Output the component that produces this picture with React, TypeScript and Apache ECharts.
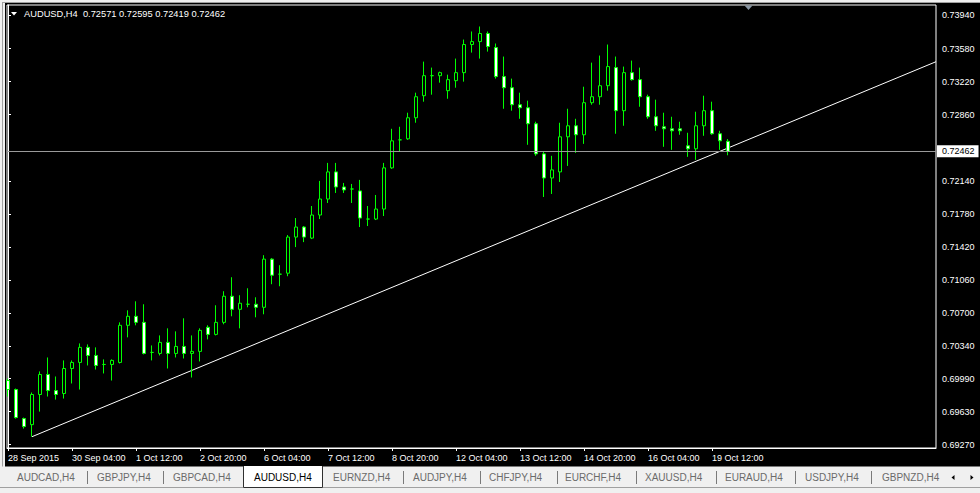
import React, { useEffect, useRef } from 'react';
import * as echarts from 'echarts';

// ---------- data ----------
const symbolTitle = 'AUDUSD,H4  0.72571 0.72595 0.72419 0.72462';

const timeLabels = [
  '28 Sep 2015', '30 Sep 04:00', '1 Oct 12:00', '2 Oct 20:00', '6 Oct 04:00', '7 Oct 12:00',
  '8 Oct 20:00', '12 Oct 04:00', '13 Oct 12:00', '14 Oct 20:00', '16 Oct 04:00', '19 Oct 12:00',
];
const timeLabelBars = [0, 8, 16, 24, 32, 40, 48, 56, 64, 72, 80, 88];

const priceTicks = [
  0.7394, 0.7358, 0.7322, 0.7286, 0.7214, 0.7178, 0.7142, 0.7106, 0.707, 0.7034, 0.6999, 0.6963, 0.6927,
];
const lastPrice = 0.72462;

const opens = [
  0.69968, 0.6987, 0.69554, 0.69488, 0.69816, 0.70034, 0.69859, 0.69827, 0.70099, 0.70165,
  0.70329, 0.70241, 0.70143, 0.70143, 0.70165, 0.70569, 0.70667, 0.70601, 0.70274, 0.70263,
  0.70383, 0.70263, 0.70339, 0.70263, 0.70285, 0.70547, 0.7047, 0.70601, 0.70885, 0.70743,
  0.70798, 0.70798, 0.70765, 0.71289, 0.71125, 0.71136, 0.71529, 0.71638, 0.71518, 0.71769,
  0.71943, 0.72238, 0.72074, 0.72052, 0.72031, 0.71725, 0.71725, 0.71834, 0.72282, 0.72587,
  0.72598, 0.72827, 0.73067, 0.73285, 0.73285, 0.73122, 0.73231, 0.73318, 0.73624, 0.73656,
  0.73744, 0.73591, 0.73275, 0.73154, 0.72969, 0.72936, 0.72762, 0.72434, 0.72172, 0.72238,
  0.7262, 0.7274, 0.72642, 0.72991, 0.73056, 0.73176, 0.73373, 0.72904, 0.73318, 0.73242,
  0.73056, 0.72838, 0.72729, 0.72707, 0.72707, 0.72522, 0.72489, 0.7274, 0.72904, 0.72653,
  0.72571,
];
const closes = [
  0.6987, 0.69565, 0.69467, 0.69816, 0.70034, 0.69859, 0.69816, 0.70099, 0.70165, 0.70329,
  0.70241, 0.70132, 0.70143, 0.70187, 0.70569, 0.70667, 0.70601, 0.70263, 0.70274, 0.70383,
  0.70263, 0.70339, 0.70263, 0.70285, 0.70514, 0.7047, 0.70601, 0.70885, 0.70743, 0.70809,
  0.70798, 0.70765, 0.71289, 0.71114, 0.71125, 0.71529, 0.71638, 0.71529, 0.71769, 0.71943,
  0.72238, 0.72074, 0.72042, 0.72052, 0.71736, 0.71725, 0.71834, 0.72282, 0.72576, 0.72587,
  0.72827, 0.73056, 0.73285, 0.73285, 0.73318, 0.73242, 0.73318, 0.73624, 0.73656, 0.73744,
  0.73602, 0.73275, 0.73154, 0.72969, 0.72936, 0.72762, 0.72434, 0.72172, 0.7226, 0.7262,
  0.7274, 0.72642, 0.72991, 0.73056, 0.73176, 0.73384, 0.72904, 0.73318, 0.73242, 0.73056,
  0.72838, 0.7274, 0.72707, 0.72685, 0.72685, 0.72489, 0.7274, 0.72904, 0.72653, 0.72576,
  0.72462,
];
const lows = [
  0.69794, 0.69554, 0.69445, 0.69357, 0.6963, 0.69794, 0.69761, 0.69772, 0.69936, 0.6987,
  0.70132, 0.70088, 0.70045, 0.69968, 0.70154, 0.70438, 0.70569, 0.70252, 0.70187, 0.70241,
  0.70099, 0.70219, 0.70208, 0.70001, 0.70176, 0.70416, 0.70459, 0.7058, 0.70667, 0.70536,
  0.70765, 0.70656, 0.70689, 0.71016, 0.70994, 0.71103, 0.7142, 0.71474, 0.71507, 0.71725,
  0.719, 0.72009, 0.72009, 0.719, 0.71638, 0.71649, 0.71714, 0.71758, 0.72271, 0.72456,
  0.72587, 0.72773, 0.73002, 0.73078, 0.73209, 0.73034, 0.73154, 0.7322, 0.73536, 0.73471,
  0.73547, 0.73253, 0.72925, 0.72904, 0.72816, 0.72533, 0.72413, 0.71965, 0.71998, 0.72129,
  0.72303, 0.72445, 0.72543, 0.72969, 0.72969, 0.73122, 0.72653, 0.7274, 0.73231, 0.72947,
  0.72816, 0.72685, 0.72511, 0.72478, 0.72642, 0.72402, 0.72369, 0.72631, 0.72642, 0.72478,
  0.72419,
];
const highs = [
  0.6999, 0.69881, 0.69565, 0.69838, 0.70067, 0.70219, 0.70012, 0.70187, 0.70187, 0.70372,
  0.70361, 0.70329, 0.70198, 0.70198, 0.70601, 0.70732, 0.7083, 0.70798, 0.7035, 0.70459,
  0.70536, 0.70503, 0.70645, 0.70459, 0.70536, 0.70569, 0.70787, 0.7094, 0.71092, 0.70896,
  0.70972, 0.70874, 0.71332, 0.713, 0.71223, 0.71551, 0.71736, 0.71649, 0.71867, 0.7214,
  0.72336, 0.72336, 0.72118, 0.72107, 0.72151, 0.71867, 0.71987, 0.72336, 0.72707, 0.72729,
  0.72882, 0.731, 0.73438, 0.73373, 0.73329, 0.73296, 0.73471, 0.73678, 0.73766, 0.7382,
  0.73766, 0.73635, 0.73493, 0.73253, 0.731, 0.73013, 0.72784, 0.72456, 0.72413, 0.72773,
  0.72925, 0.72816, 0.73165, 0.73427, 0.73504, 0.73624, 0.73493, 0.73384, 0.73449, 0.73373,
  0.73078, 0.73024, 0.72882, 0.72838, 0.72784, 0.72664, 0.72893, 0.73067, 0.73002, 0.72685,
  0.72595,
];

// trend line anchors: [bar index, price]
const trendLine = [
  [3, 0.69357],
  [116, 0.73437],
];

const tabs = [
  'AUDCAD,H4', 'GBPJPY,H4', 'GBPCAD,H4', 'AUDUSD,H4', 'EURNZD,H4', 'AUDJPY,H4',
  'CHFJPY,H4', 'EURCHF,H4', 'XAUUSD,H4', 'EURAUD,H4', 'USDJPY,H4', 'GBPNZD,H4',
];
const activeTab = 'AUDUSD,H4';

// ---------- layout (not data) ----------
const tabTextX = [17, 97, 173, 254, 333, 413, 489, 565, 645, 725, 805, 882];
const tabSeparatorX = [87, 163, 403, 480, 557, 636, 716, 795, 871];

const FONT = "'Liberation Sans', Arial, sans-serif";

export default function App() {
  const ref = useRef<HTMLDivElement>(null);

  useEffect(() => {
    document.body.style.margin = '0';
    if (!ref.current) return;
    const chart = echarts.init(ref.current, undefined, { renderer: 'svg' });

    const candleData = opens.map((o, i) => [i, o, closes[i], lows[i], highs[i]]);

    const graphics: any[] = [];
    // window frame (left & top)
    graphics.push({ type: 'rect', silent: true, shape: { x: 0, y: 0, width: 5, height: 467 }, style: { fill: '#f0f0f0' } });
    graphics.push({ type: 'line', silent: true, shape: { x1: 2.5, y1: 0, x2: 2.5, y2: 467 }, style: { stroke: '#a0a0a0', lineWidth: 1 } });
    graphics.push({ type: 'rect', silent: true, shape: { x: 0, y: 0, width: 980, height: 3 }, style: { fill: '#f0f0f0' } });
    graphics.push({ type: 'line', silent: true, shape: { x1: 2, y1: 2.5, x2: 980, y2: 2.5 }, style: { stroke: '#a0a0a0', lineWidth: 1 } });
    // title
    graphics.push({ type: 'polygon', silent: true, shape: { points: [[11, 12], [17, 12], [14, 15.5]] }, style: { fill: '#fff' } });
    graphics.push({
      type: 'text', silent: true, x: 24, y: 14,
      style: { text: symbolTitle, fill: '#fff', font: `9.3px ${FONT}`, verticalAlign: 'middle', align: 'left' },
    });
    // chart shift marker
    graphics.push({ type: 'polygon', silent: true, shape: { points: [[744.5, 5.5], [752.5, 5.5], [748.5, 10]] }, style: { fill: '#8a97a4' } });
    // tab bar
    graphics.push({ type: 'rect', silent: true, shape: { x: 0, y: 466.5, width: 980, height: 27 }, style: { fill: '#f0f0f0' } });
    graphics.push({ type: 'line', silent: true, shape: { x1: 0, y1: 487.5, x2: 980, y2: 487.5 }, style: { stroke: '#a0a0a0', lineWidth: 1 } });
    const activeIdx = tabs.indexOf(activeTab);
    graphics.push({ type: 'rect', silent: true, shape: { x: 243, y: 466, width: 80, height: 21.5 }, style: { fill: '#fff' } });
    graphics.push({
      type: 'polyline', silent: true,
      shape: { points: [[243.5, 466], [243.5, 487.5], [322.5, 487.5], [322.5, 466]] },
      style: { stroke: '#303030', lineWidth: 1, fill: 'none' },
    });
    tabs.forEach((t, i) => {
      graphics.push({
        type: 'text', silent: true, x: tabTextX[i], y: 477,
        style: { text: t, fill: i === activeIdx ? '#000' : '#6b6b6b', font: `10px ${FONT}`, verticalAlign: 'middle', align: 'left' },
      });
    });
    tabSeparatorX.forEach((x) => {
      graphics.push({ type: 'line', silent: true, shape: { x1: x + 0.5, y1: 471, x2: x + 0.5, y2: 484 }, style: { stroke: '#7a7a7a', lineWidth: 1 } });
    });
    graphics.push({ type: 'polygon', silent: true, shape: { points: [[951.5, 477.5], [954.5, 475], [954.5, 480]] }, style: { fill: '#000' } });
    graphics.push({ type: 'polygon', silent: true, shape: { points: [[973.5, 477.5], [970.5, 475], [970.5, 480]] }, style: { fill: '#000' } });

    const option: any = {
      animation: false,
      backgroundColor: '#000',
      textStyle: { fontFamily: FONT },
      grid: {
        left: 7, top: 5, width: 929, height: 443,
        show: true, borderColor: '#fff', borderWidth: 1, backgroundColor: 'transparent',
      },
      xAxis: {
        type: 'value', min: -0.125, max: 116, position: 'bottom',
        axisLine: { show: true, lineStyle: { color: '#fff', width: 1 } },
        axisTick: { show: true, length: 3, customValues: timeLabelBars, lineStyle: { color: '#fff' } },
        axisLabel: {
          customValues: timeLabelBars,
          formatter: (v: number) => {
            const k = timeLabelBars.indexOf(Math.round(v));
            return k >= 0 ? timeLabels[k] : '';
          },
          color: '#fff', fontSize: 9, fontFamily: FONT, align: 'left', margin: 5,
        },
        splitLine: { show: false },
      },
      yAxis: {
        type: 'value', position: 'right', min: 0.69234, max: 0.74054, scale: true,
        axisLine: { show: true, lineStyle: { color: '#fff', width: 1 } },
        axisTick: { show: true, length: 3, customValues: priceTicks, lineStyle: { color: '#fff' } },
        axisLabel: {
          customValues: priceTicks,
          formatter: (v: number) => v.toFixed(5),
          color: '#fff', fontSize: 9, fontFamily: FONT, margin: 6,
        },
        splitLine: { show: false },
      },
      series: [
        {
          type: 'candlestick',
          data: candleData,
          barWidth: 4,
          itemStyle: {
            color: '#000', color0: '#fff',
            borderColor: '#00ff00', borderColor0: '#00ff00', borderWidth: 1,
          },
        },
        {
          type: 'line',
          data: trendLine,
          showSymbol: false,
          symbol: 'none',
          silent: true,
          z: 1,
          lineStyle: { color: '#fff', width: 1 },
          markLine: {
            silent: true,
            precision: 5,
            symbol: ['none', 'none'],
            lineStyle: { color: '#9a9a9a', width: 1, type: 'solid' },
            label: {
              show: true, position: 'end', formatter: lastPrice.toFixed(5),
              color: '#000', backgroundColor: '#fff', fontSize: 9, fontFamily: FONT,
              padding: [2, 4, 1, 5], distance: 1,
            },
            data: [{ yAxis: lastPrice }],
          },
        },
      ],
      graphic: graphics,
    };

    chart.setOption(option);
    return () => chart.dispose();
  }, []);

  return (
    <div
      ref={ref}
      style={{ position: 'absolute', left: 0, top: 0, width: 980, height: 493 }}
    />
  );
}
